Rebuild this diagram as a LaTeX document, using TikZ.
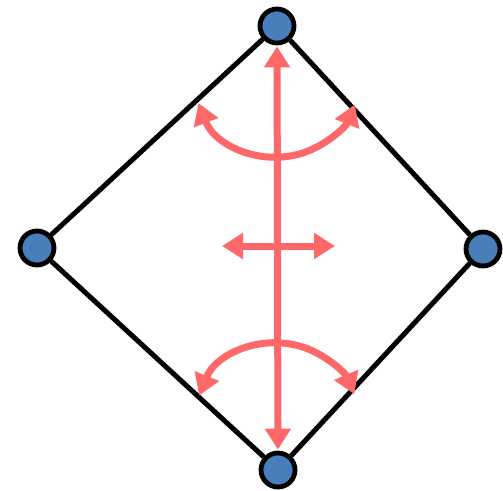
\documentclass[tikz,border=0pt]{standalone}
\usetikzlibrary{arrows.meta}
\definecolor{vtxblue}{HTML}{4A7EBB}
\definecolor{motion}{HTML}{FF6868}
\begin{document}
\begin{tikzpicture}[x=1pt,y=-1pt,
  vertex/.style={circle,draw=black,line width=4.8pt,fill=vtxblue,minimum size=34pt,inner sep=0pt},
  edge/.style={draw=black,line width=5pt},
  move/.style={draw=motion,line width=7pt,arrows={Triangle[width=25pt,length=21pt]-Triangle[width=25pt,length=21pt]}}
]
\useasboundingbox (0,0) rectangle (503,490);
% square frame
\node[vertex] (top) at (277,26) {};
\node[vertex] (left) at (37,248) {};
\node[vertex] (right) at (483,249) {};
\node[vertex] (bottom) at (278,470) {};
\draw[edge] (top) -- (left) -- (bottom) -- (right) -- (top);
% vertical stretch
\draw[move,shorten <=1pt,shorten >=1pt] (top) -- (bottom);
% horizontal stretch
\coordinate (hl) at (222,246);
\coordinate (hr) at (335,246);
\draw[move] (hl) -- (hr);
% bending arcs
\coordinate (uc) at (277,73);
\coordinate (lc) at (277,427);
\draw[move] ([shift={(159:84)}]uc) arc[start angle=159,end angle=22,radius=84];
\draw[move] ([shift={(202:84)}]lc) arc[start angle=202,end angle=337,radius=84];
\end{tikzpicture}
\end{document}
